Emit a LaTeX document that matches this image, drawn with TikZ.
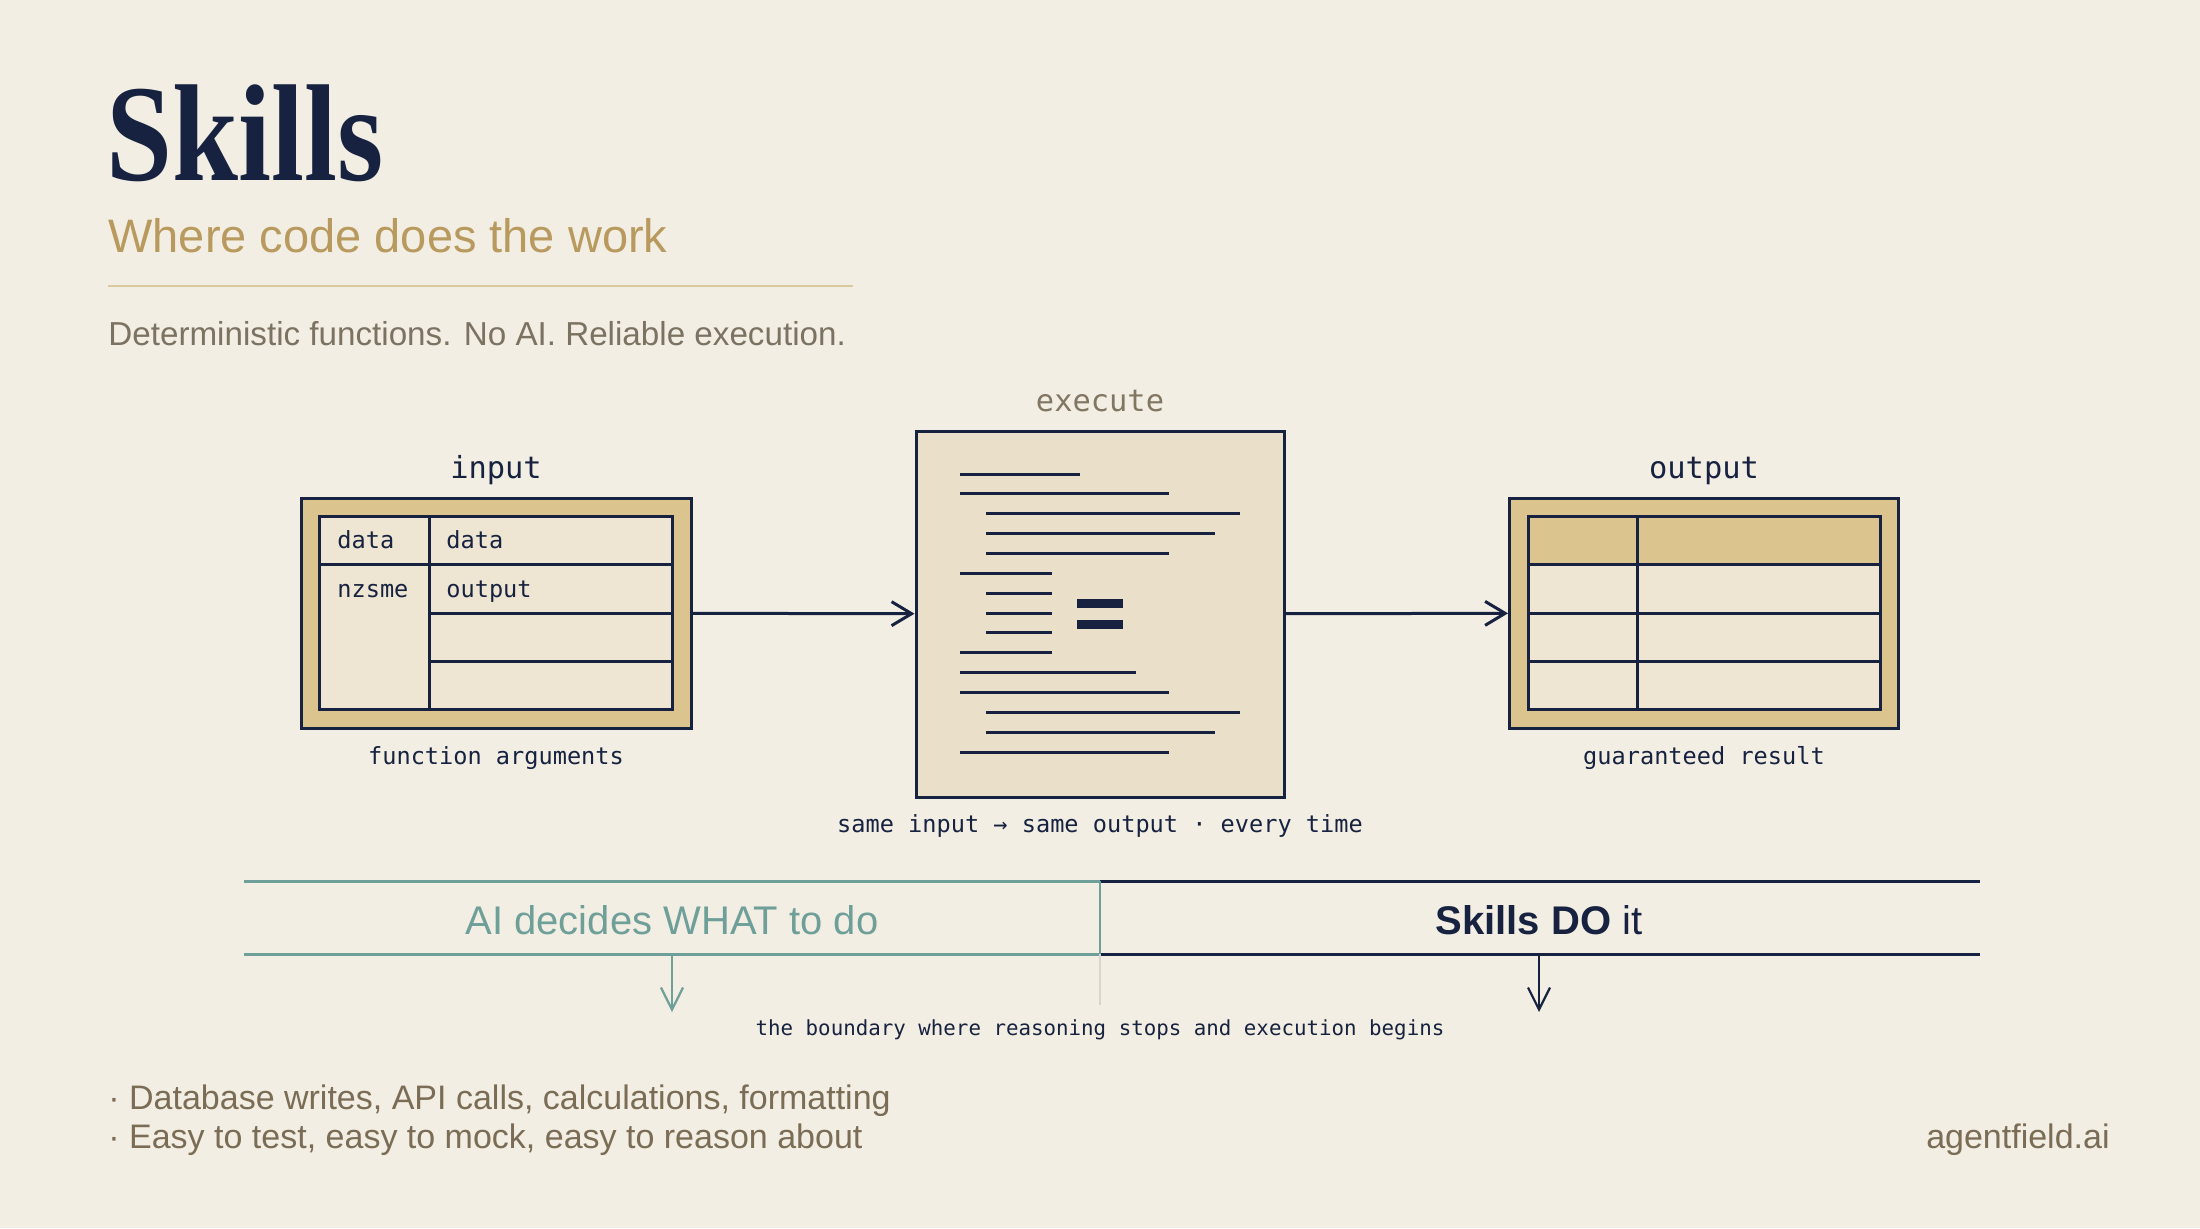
\documentclass[tikz,border=0pt]{standalone}
\usepackage{fontspec}
\usetikzlibrary{positioning,arrows.meta}
\setmainfont{Liberation Sans}
\newfontfamily\titlefont[FakeStretch=0.86]{Liberation Serif}
\newfontfamily\monofont{DejaVu Sans Mono}
\definecolor{paper}{HTML}{F3EEE3}
\definecolor{navy}{HTML}{16223F}
\definecolor{gold}{HTML}{B89A5E}
\definecolor{rulegold}{HTML}{D9C8A0}
\definecolor{goldfill}{HTML}{DCC48F}
\definecolor{cellfill}{HTML}{EEE5D2}
\definecolor{execfill}{HTML}{EADFC9}
\definecolor{aiteal}{HTML}{6E9F99}
\definecolor{mutedtext}{HTML}{7B7262}
\definecolor{bullettext}{HTML}{7A6C55}
\tikzset{
  box/.style={draw=navy, line width=1.5pt, inner sep=0pt},
  grid/.style={draw=navy, line width=1.5pt},
  codeline/.style={navy, line width=1.5pt},
  flow/.style={navy, line width=1.5pt, -{Straight Barb[length=10pt,width=12pt]}},
  drop/.style={line width=1.1pt, -{Straight Barb[length=11pt,width=11pt]}},
  monolg/.style={font=\monofont\fontsize{15.2}{18}\selectfont, text=navy, inner sep=0pt},
  monosm/.style={font=\monofont\fontsize{11.8}{14}\selectfont, text=navy, inner sep=0pt},
  monoxs/.style={font=\monofont\fontsize{10.4}{12}\selectfont, text=navy, inner sep=0pt},
  cell/.style={monosm, anchor=base west},
}
\begin{document}
\begin{tikzpicture}[x=0.5pt, y=-0.5pt]
    % page
    \fill[paper] (0,0) rectangle (2200,1228);
    \useasboundingbox (0,0) rectangle (2200,1228);

    % heading
    \node[anchor=base west, inner sep=0pt, text=navy, font=\titlefont\bfseries\fontsize{69}{80}\selectfont] (title) at (106,180) {Skills};
    \node[anchor=base west, inner sep=0pt, text=gold, font=\fontsize{23.5}{28}\selectfont] (subtitle) at (108,252) {Where code does the work};
    \draw[rulegold, line width=1pt] (108,286) -- (853,286);
    \node[anchor=base west, inner sep=0pt, text=mutedtext, font=\fontsize{16.6}{20}\selectfont] (tagline) at (108,345) {Deterministic functions. No AI. Reliable execution.};

    % boxes
    \node[box, fill=goldfill, minimum width=195pt, minimum height=115pt] (inbox) at (496,613) {};
    \node[box, fill=execfill, minimum width=184pt, minimum height=183pt] (exebox) at (1100,614) {};
    \node[box, fill=goldfill, minimum width=194.5pt, minimum height=115pt] (outbox) at (1704,613) {};

    % input table
    \filldraw[grid, fill=cellfill] (319,516) rectangle (672,709);
    \draw[grid] (429,516) -- (429,709);
    \draw[grid] (319,564) -- (672,564);
    \draw[grid] (429,613) -- (672,613);
    \draw[grid] (429,661) -- (672,661);
    \node[cell] (c11) at (337,548) {data};
    \node[cell] (c12) at (446,548) {data};
    \node[cell] (c21) at (337,597) {nzsme};
    \node[cell] (c22) at (446,597) {output};

    % code listing
    \foreach \xa/\xb [count=\i] in {960/1080, 960/1169, 986/1240, 986/1215, 986/1169,
        960/1052, 986/1052, 986/1052, 986/1052, 960/1052,
        960/1136, 960/1169, 986/1240, 986/1215, 960/1169}
        \draw[codeline] (\xa,{454.2+19.86*\i}) -- (\xb,{454.2+19.86*\i});
    \fill[navy] (1077,599) rectangle (1123,608);
    \fill[navy] (1077,620) rectangle (1123,629);

    % output table
    \filldraw[grid, fill=cellfill] (1528,516) rectangle (1880,709);
    \fill[goldfill] (1528,516) rectangle (1880,564);
    \draw[grid] (1528,516) rectangle (1880,709);
    \draw[grid] (1637,516) -- (1637,709);
    \foreach \y in {564,613,661}
        \draw[grid] (1528,\y) -- (1880,\y);

    % labels
    \node[monolg, above=9pt of inbox.north, anchor=base] (inlabel) {input};
    \node[monolg, above=9pt of exebox.north, anchor=base, text=mutedtext!90!gold] (exelabel) {execute};
    \node[monolg, above=9pt of outbox.north, anchor=base] (outlabel) {output};
    \node[monosm, below=17.5pt of inbox.south, anchor=base] (innote) {function arguments};
    \node[monosm, below=17.5pt of outbox.south, anchor=base] (outnote) {guaranteed result};
    \node[monosm, below=17pt of exebox.south, anchor=base] (exenote) {same input → same output · every time};

    % flow
    \draw[flow] (inbox) -- (exebox);
    \draw[flow] (exebox) -- (outbox);

    % boundary band
    \coordinate (bandtl) at (244,881);
    \coordinate (bandbl) at (244,954);
    \coordinate (bandtm) at (1100,881);
    \coordinate (bandbm) at (1100,954);
    \coordinate (bandtr) at (1980,881);
    \coordinate (bandbr) at (1980,954);
    \coordinate (bandend) at (1100,1005);
    \draw[aiteal, line width=1.5pt] (bandtl) -- (bandtm);
    \draw[aiteal, line width=1.5pt] (bandbl) -- (bandbm);
    \draw[navy, line width=1.5pt] (bandtm) -- (bandtr);
    \draw[navy, line width=1.5pt] (bandbm) -- (bandbr);
    \draw[aiteal, line width=0.6pt] (bandtm) -- (bandbm);
    \draw[mutedtext!30, line width=0.6pt] (bandbm) -- (bandend);
    \node[anchor=base, inner sep=0pt, text=aiteal, font=\fontsize{20}{24}\selectfont] (aitext) at (672,934) {AI decides WHAT to do};
    \node[anchor=base, inner sep=0pt, text=navy, font=\fontsize{20}{24}\selectfont] (skilltext) at (1539,934) {\textbf{Skills DO} it};
    \coordinate (aifoot) at (672,954);
    \coordinate (aitip) at (672,1012);
    \coordinate (skillfoot) at (1539,954);
    \coordinate (skilltip) at (1539,1012);
    \draw[drop, aiteal] (aifoot) -- (aitip);
    \draw[drop, navy] (skillfoot) -- (skilltip);
    \node[monoxs, anchor=base] (boundary) at (1100,1035) {the boundary where reasoning stops and execution begins};

    % notes
    \node[anchor=base west, inner sep=0pt, text=bullettext, font=\fontsize{17}{20}\selectfont] (note1) at (108,1109) {· Database writes, API calls, calculations, formatting};
    \node[anchor=base west, inner sep=0pt, text=bullettext, font=\fontsize{17}{20}\selectfont] (note2) at (108,1148) {· Easy to test, easy to mock, easy to reason about};
    \node[anchor=base east, inner sep=0pt, text=bullettext, font=\fontsize{17}{20}\selectfont] (brand) at (2110,1148) {agentfield.ai};
\end{tikzpicture}
\end{document}
